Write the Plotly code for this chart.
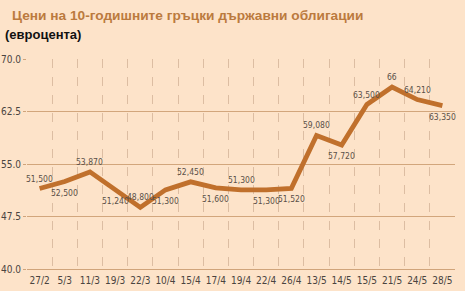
import plotly.graph_objects as go

dates = ["27/2", "5/3", "11/3", "19/3", "22/3", "10/4", "15/4", "17/4", "19/4",
         "22/4", "26/4", "13/5", "14/5", "15/5", "21/5", "24/5", "28/5"]
prices = [51.50, 52.50, 53.87, 51.24, 48.80, 51.30, 52.45, 51.60, 51.30,
          51.30, 51.52, 59.08, 57.72, 63.50, 66.0, 64.21, 63.35]
price_labels = ["51,500", "52,500", "53,870", "51,240", "48,800", "51,300", "52,450",
                "51,600", "51,300", "51,300", "51,520", "59,080", "57,720", "63,500",
                "66", "64,210", "63,350"]
label_side = [1, -1, 1, -1, 1, -1, 1, -1, 1, -1, -1, 1, -1, 1, 1, 1, -1]
y_ticks = [40.0, 47.5, 55.0, 62.5, 70.0]

idx = list(range(len(dates)))
cond = "DejaVu Sans Condensed, Liberation Sans Narrow, sans-serif"

fig = go.Figure()
fig.add_trace(go.Scatter(
    x=idx, y=prices, mode="lines",
    line=dict(color="#c0702c", width=4.8),
    hoverinfo="skip",
))

annots = []
for i, (v, t, s) in enumerate(zip(prices, price_labels, label_side)):
    annots.append(dict(x=i, y=v, xref="x", yref="y", text=t, showarrow=False,
                       yshift=10 if s > 0 else -11, xanchor="center",
                       yanchor="middle",
                       font=dict(family=cond, size=8.5, color="#5a5048")))
annots.append(dict(text="<b>(евроцента)</b>", xref="paper", yref="paper",
                   x=(3 - 27) / 428, xanchor="left",
                   y=1 + (59 - 34) / 210, yanchor="middle", showarrow=False,
                   font=dict(family="Liberation Sans, Arial, sans-serif",
                             size=13, color="#111111")))

fig.update_layout(
    width=465, height=291,
    margin=dict(l=27, r=10, t=59, b=22),
    paper_bgcolor="#fde3c9", plot_bgcolor="#fde3c9",
    showlegend=False,
    title=dict(text="Цени на 10-годишните гръцки държавни облигации",
               x=12 / 465, xanchor="left", y=1 - 15 / 291, yanchor="middle",
               font=dict(family="Liberation Sans, Arial, sans-serif", size=13.7,
                         color="#bb7a3e", weight="bold")),
    annotations=annots,
)

fig.update_xaxes(
    range=[-0.5, len(dates) - 0.5],
    tickvals=idx, ticktext=dates, showgrid=False, zeroline=False,
    tickfont=dict(family=cond, size=10, color="#4a4440"),
    ticks="", ticklabelstandoff=2, automargin=False,
    showline=True, linecolor="#d0a47a", linewidth=1, mirror=False,
    minor=dict(tick0=-0.5, dtick=1, showgrid=True, gridcolor="#dcbda2",
               griddash="dash", gridwidth=1),
)
fig.update_yaxes(
    range=[40, 70], tickvals=y_ticks, ticktext=[f"{v:.1f}" for v in y_ticks],
    showgrid=True, gridcolor="#d2a67c", gridwidth=1.2, zeroline=False,
    tickfont=dict(family=cond, size=10, color="#4a4440"),
    ticks="outside", ticklen=3, tickcolor="#d0a47a", automargin=False,
    showline=False,
)

fig.write_html("out.html")
